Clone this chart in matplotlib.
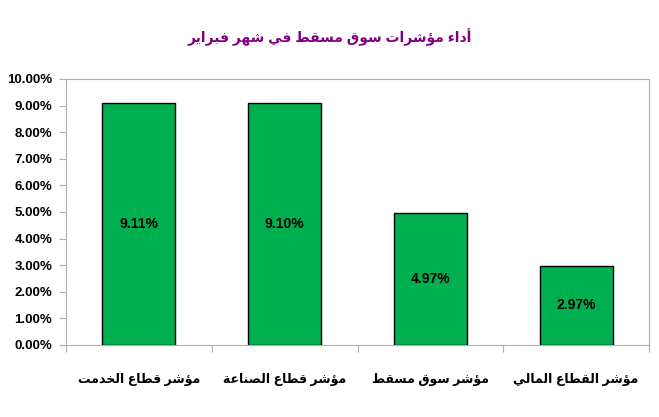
import matplotlib
matplotlib.use("Agg")
import matplotlib.pyplot as plt
from matplotlib.ticker import PercentFormatter

# data
title = "أداء مؤشرات سوق مسقط في شهر فبراير"
categories = ["مؤشر قطاع الخدمت", "مؤشر قطاع الصناعة", "مؤشر سوق مسقط", "مؤشر القطاع المالي"]
values = [9.11, 9.10, 4.97, 2.97]

# arabic shaping (presentation forms) since matplotlib has no shaping/bidi
DUAL = {'ب': 0xFE8F, 'ت': 0xFE95, 'خ': 0xFEA5, 'س': 0xFEB1, 'ش': 0xFEB5, 'ص': 0xFEB9,
        'ط': 0xFEC1, 'ع': 0xFEC9, 'ف': 0xFED1, 'ق': 0xFED5, 'ل': 0xFEDD, 'م': 0xFEE1,
        'ن': 0xFEE5, 'ه': 0xFEE9, 'ي': 0xFEF1}
RIGHT = {'أ': 0xFE83, 'ؤ': 0xFE85, 'ا': 0xFE8D, 'ة': 0xFE93, 'د': 0xFEA9, 'ر': 0xFEAD,
         'و': 0xFEED}
NONE = {'ء': 0xFE80}


def shape(s):
    out = []
    for i, c in enumerate(s):
        prev = s[i - 1] if i > 0 else ''
        nxt = s[i + 1] if i + 1 < len(s) else ''
        jp = prev in DUAL
        if c in DUAL:
            jn = nxt in DUAL or nxt in RIGHT
            base = DUAL[c]
            if jp and jn:
                out.append(chr(base + 3))
            elif jp:
                out.append(chr(base + 1))
            elif jn:
                out.append(chr(base + 2))
            else:
                out.append(chr(base))
        elif c in RIGHT:
            out.append(chr(RIGHT[c] + (1 if jp else 0)))
        elif c in NONE:
            out.append(chr(NONE[c]))
        else:
            out.append(c)
    return ''.join(out)[::-1]


plt.rcParams['font.family'] = ['Liberation Sans', 'DejaVu Sans']
fig = plt.figure(figsize=(6.59, 4.17), dpi=100)
ax = fig.add_axes([0.1002, 0.1727, 0.8846, 0.6379])

x = range(len(values))
bars = ax.bar(x, values, width=0.5, color='#00B050', edgecolor='black', linewidth=1)

for b, v in zip(bars, values):
    ax.text(b.get_x() + b.get_width() / 2, v / 2, '%.2f%%' % v,
            ha='center', va='center', fontsize=10, fontweight='bold')

ax.set_xlim(-0.5, len(values) - 0.5)
ax.set_ylim(0, 10)
ax.set_yticks(range(0, 11))
ax.yaxis.set_major_formatter(PercentFormatter(decimals=2))
ax.set_xticks([i - 0.5 for i in range(len(values) + 1)])
ax.set_xticklabels([])
ax.set_xticks(list(x), minor=True)
ax.set_xticklabels([shape(c) for c in categories], minor=True, fontsize=9, fontweight='bold')
ax.tick_params(axis='x', which='minor', length=0, pad=20)
ax.tick_params(axis='x', which='major', length=5, color='#B0B0B0')
ax.tick_params(axis='y', length=5, color='#B0B0B0', labelsize=9.5, pad=5)
for lbl in ax.get_yticklabels():
    lbl.set_fontweight('bold')
for sp in ax.spines.values():
    sp.set_color('#B0B0B0')

fig.text(0.5, 0.91, shape(title), ha='center', va='center', fontsize=10,
         fontweight='bold', color='#800080')

plt.savefig('out.png', dpi=100)
